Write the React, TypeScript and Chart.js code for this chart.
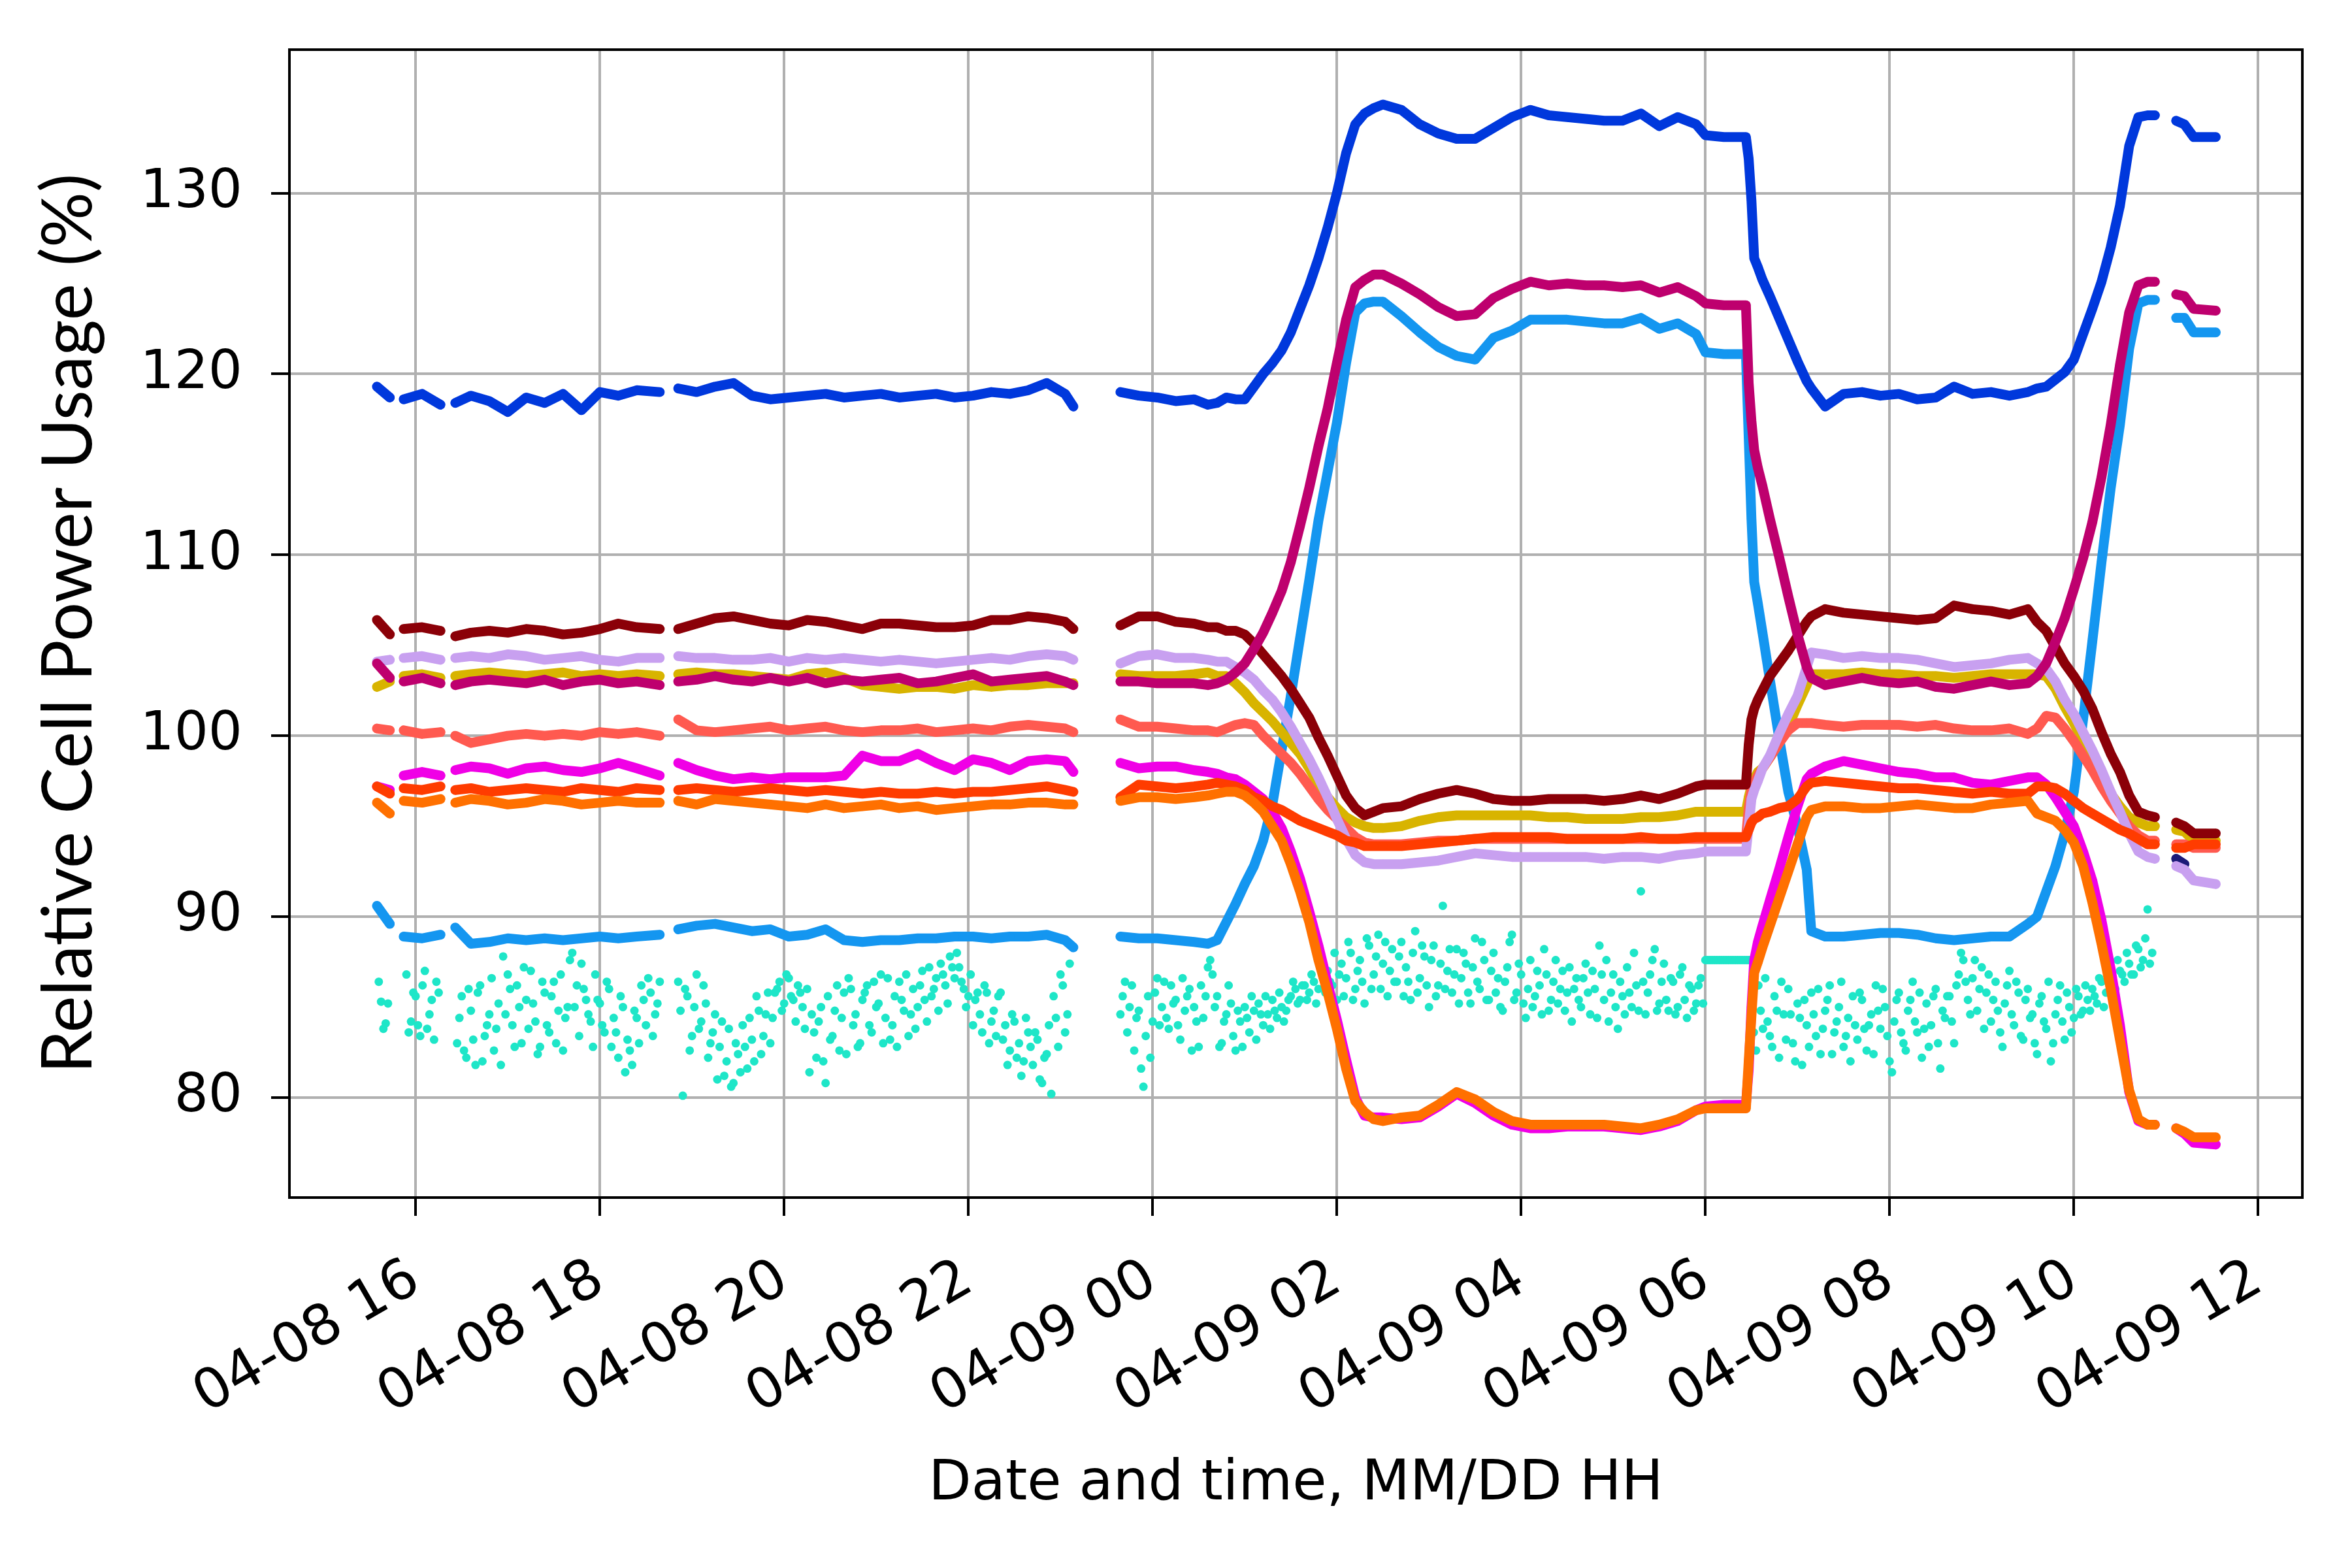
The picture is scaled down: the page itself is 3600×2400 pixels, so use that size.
import React, { useEffect, useRef } from 'react';
import { Chart, registerables } from 'chart.js';

Chart.register(...registerables);

// ---- axis ticks ----
const TICK_HOURS = [16, 18, 20, 22, 24, 26, 28, 30, 32, 34, 36];
const TICK_LABELS = ['04-08 16', '04-08 18', '04-08 20', '04-08 22', '04-09 00', '04-09 02', '04-09 04', '04-09 06', '04-09 08', '04-09 10', '04-09 12'];
const Y_TICKS = [80, 90, 100, 110, 120, 130];

// ---- sample times (hours since 04-08 00:00), one list per recording segment ----
const SEG_T1 = [15.58, 15.72];
const SEG_T2 = [15.87, 16.07, 16.27];
const SEG_T3 = [16.43, 16.6, 16.8, 17.0, 17.2, 17.4, 17.6, 17.8, 18.0, 18.2, 18.4, 18.65];
const SEG_T4 = [18.85, 19.05, 19.25, 19.45, 19.65, 19.85, 20.05, 20.25, 20.45, 20.65, 20.85, 21.05, 21.25, 21.45, 21.65, 21.85, 22.05, 22.25, 22.45, 22.65, 22.85, 23.05, 23.14];
const SEG_T5 = [
  23.65, 23.85, 24.05, 24.25, 24.45, 24.6, 24.7, 24.8, 24.9, 25.0, 25.1, 25.2, 25.3, 25.4, 25.5, 25.6, 25.7, 25.8, 25.9, 26.0, 26.1, 26.2, 26.3, 26.4, 26.5,
  26.7, 26.9, 27.1, 27.3, 27.5, 27.7, 27.9, 28.1, 28.3, 28.5, 28.7, 28.9, 29.1, 29.3, 29.5, 29.7, 29.9, 30.0, 30.2, 30.44,
  30.47, 30.5, 30.53, 30.57, 30.62, 30.7, 30.8, 30.9, 31.0, 31.1, 31.15, 31.3, 31.5, 31.7, 31.9, 32.1, 32.3, 32.5, 32.7, 32.9, 33.1, 33.3, 33.5,
  33.6, 33.7, 33.8, 33.9, 34.0, 34.1, 34.2, 34.3, 34.4, 34.5, 34.6, 34.7, 34.8, 34.88,
];
const SEG_T6 = [35.11, 35.2, 35.3, 35.54];
const SEGMENT_TIMES = [SEG_T1, SEG_T2, SEG_T3, SEG_T4, SEG_T5, SEG_T6];

// ---- series values (%), per segment ----
const BLUE = [
  [119.3, 118.7],
  [118.6, 118.9, 118.3],
  [118.4, 118.8, 118.5, 117.9, 118.7, 118.4, 118.9, 118.0, 119.0, 118.8, 119.1, 119.0],
  [119.2, 119.0, 119.3, 119.5, 118.8, 118.6, 118.7, 118.8, 118.9, 118.7, 118.8, 118.9, 118.7, 118.8, 118.9, 118.7, 118.8, 119.0, 118.9, 119.1, 119.5, 118.9, 118.2],
  [119.0, 118.8, 118.7, 118.5, 118.6, 118.3, 118.4, 118.7, 118.6, 118.6, 119.3, 120.0, 120.6, 121.3, 122.3, 123.6, 124.9, 126.4, 128.1, 130.0, 132.2, 133.8, 134.4, 134.7, 134.9,
   134.6, 133.8, 133.3, 133.0, 133.0, 133.6, 134.2, 134.6, 134.3, 134.2, 134.1, 134.0, 134.0, 134.4, 133.7, 134.2, 133.8, 133.2, 133.1, 133.1,
   131.9, 129.6, 126.4, 125.9, 125.2, 124.3, 123.1, 121.9, 120.7, 119.6, 119.2, 118.2, 118.9, 119.0, 118.8, 118.9, 118.6, 118.7, 119.3, 118.9, 119.0, 118.8, 119.0,
   119.2, 119.3, 119.7, 120.1, 120.8, 122.2, 123.6, 125.1, 127.0, 129.3, 132.6, 134.2, 134.3, 134.3],
  [134.0, 133.8, 133.1, 133.1],
];
const LIGHT_BLUE = [
  [90.6, 89.6],
  [88.9, 88.8, 89.0],
  [89.4, 88.5, 88.6, 88.8, 88.7, 88.8, 88.7, 88.8, 88.9, 88.8, 88.9, 89.0],
  [89.3, 89.5, 89.6, 89.4, 89.2, 89.3, 88.9, 89.0, 89.3, 88.7, 88.6, 88.7, 88.7, 88.8, 88.8, 88.9, 88.9, 88.8, 88.9, 88.9, 89.0, 88.7, 88.3],
  [88.9, 88.8, 88.8, 88.7, 88.6, 88.5, 88.7, 89.7, 90.7, 91.8, 92.8, 94.2, 96.2, 99.2, 102.2, 105.4, 108.6, 111.9, 114.6, 117.3, 120.6, 123.4, 123.9, 124.0, 124.0,
   123.2, 122.3, 121.5, 121.0, 120.8, 122.0, 122.4, 123.0, 123.0, 123.0, 122.9, 122.8, 122.8, 123.1, 122.5, 122.8, 122.2, 121.2, 121.1, 121.1,
   116.5, 112.0, 108.5, 107.3, 105.7, 103.1, 99.9, 96.9, 95.0, 92.6, 89.2, 88.9, 88.9, 89.0, 89.1, 89.1, 89.0, 88.8, 88.7, 88.8, 88.9, 88.9, 89.6,
   90.0, 91.4, 92.8, 94.6, 96.9, 100.9, 105.2, 109.6, 113.7, 117.2, 121.4, 123.9, 124.1, 124.1],
  [123.1, 123.1, 122.3, 122.3],
];
const CRIMSON = [
  [104.0, 103.2],
  [103.0, 103.2, 102.9],
  [102.8, 103.0, 103.1, 103.0, 102.9, 103.1, 102.8, 103.0, 103.1, 102.9, 103.0, 102.8],
  [103.0, 103.1, 103.3, 103.1, 103.0, 103.2, 103.0, 103.2, 102.9, 103.1, 103.0, 103.1, 103.2, 102.9, 103.0, 103.2, 103.4, 103.0, 103.1, 103.2, 103.3, 103.0, 102.8],
  [103.0, 103.0, 102.9, 102.9, 102.9, 102.8, 102.9, 103.1, 103.5, 104.0, 104.8, 105.7, 106.8, 108.0, 109.6, 111.6, 113.7, 116.0, 118.1, 120.6, 123.0, 124.8, 125.2, 125.5, 125.5,
   125.0, 124.4, 123.7, 123.2, 123.3, 124.2, 124.7, 125.1, 124.9, 125.0, 124.9, 124.9, 124.8, 124.9, 124.5, 124.8, 124.3, 123.9, 123.8, 123.8,
   119.5, 117.4, 115.8, 114.8, 113.8, 112.0, 109.9, 107.7, 105.6, 103.8, 103.2, 102.8, 103.0, 103.2, 103.0, 102.9, 103.0, 102.7, 102.6, 102.8, 103.0, 102.8, 102.9,
   103.3, 104.0, 105.2, 106.5, 108.1, 109.8, 111.8, 114.3, 117.2, 120.5, 123.4, 124.9, 125.1, 125.1],
  [124.4, 124.3, 123.6, 123.5],
];
const MAROON = [
  [106.4, 105.6],
  [105.9, 106.0, 105.8],
  [105.5, 105.7, 105.8, 105.7, 105.9, 105.8, 105.6, 105.7, 105.9, 106.2, 106.0, 105.9],
  [105.9, 106.2, 106.5, 106.6, 106.4, 106.2, 106.1, 106.4, 106.3, 106.1, 105.9, 106.2, 106.2, 106.1, 106.0, 106.0, 106.1, 106.4, 106.4, 106.6, 106.5, 106.3, 105.9],
  [106.1, 106.6, 106.6, 106.3, 106.2, 106.0, 106.0, 105.8, 105.8, 105.6, 105.1, 104.5, 103.9, 103.3, 102.6, 101.8, 101.0, 99.9, 98.9, 97.8, 96.7, 96.0, 95.6, 95.8, 96.0,
   96.1, 96.5, 96.8, 97.0, 96.8, 96.5, 96.4, 96.4, 96.5, 96.5, 96.5, 96.4, 96.5, 96.7, 96.5, 96.8, 97.2, 97.3, 97.3, 97.3,
   99.5, 100.9, 101.5, 102.0, 102.5, 103.3, 104.0, 104.7, 105.5, 106.3, 106.6, 107.0, 106.8, 106.7, 106.6, 106.5, 106.4, 106.5, 107.2, 107.0, 106.9, 106.7, 107.0,
   106.3, 105.8, 104.9, 104.0, 103.3, 102.5, 101.5, 100.2, 99.0, 98.0, 96.7, 95.8, 95.6, 95.5],
  [95.2, 95.0, 94.6, 94.6],
];
const LAVENDER = [
  [104.1, 104.2],
  [104.3, 104.4, 104.2],
  [104.3, 104.4, 104.3, 104.5, 104.4, 104.2, 104.3, 104.4, 104.2, 104.1, 104.3, 104.3],
  [104.4, 104.3, 104.3, 104.2, 104.2, 104.3, 104.1, 104.3, 104.2, 104.3, 104.2, 104.1, 104.2, 104.1, 104.0, 104.1, 104.2, 104.3, 104.2, 104.4, 104.5, 104.4, 104.2],
  [104.0, 104.4, 104.5, 104.3, 104.3, 104.2, 104.1, 104.1, 103.8, 103.5, 103.1, 102.5, 102.0, 101.3, 100.5, 99.6, 98.7, 97.7, 96.6, 95.4, 94.3, 93.4, 93.0, 92.9, 92.9,
   92.9, 93.0, 93.1, 93.3, 93.5, 93.4, 93.3, 93.3, 93.3, 93.3, 93.3, 93.2, 93.3, 93.3, 93.2, 93.4, 93.5, 93.6, 93.6, 93.6,
   95.0, 96.5, 97.0, 97.5, 98.2, 98.9, 100.1, 101.2, 102.2, 103.8, 104.6, 104.5, 104.3, 104.4, 104.3, 104.3, 104.2, 104.0, 103.8, 103.9, 104.0, 104.2, 104.3,
   104.0, 103.7, 103.0, 102.0, 101.2, 100.2, 99.2, 98.1, 96.9, 95.8, 94.6, 93.6, 93.3, 93.2],
  [92.8, 92.6, 92.0, 91.8],
];
const NAVY = [[], [], [], [], [], [93.2, 92.9]];
const GOLD = [
  [102.7, 103.0],
  [103.3, 103.4, 103.2],
  [103.3, 103.4, 103.5, 103.4, 103.3, 103.4, 103.5, 103.3, 103.4, 103.3, 103.4, 103.3],
  [103.4, 103.5, 103.4, 103.4, 103.3, 103.2, 103.1, 103.4, 103.5, 103.2, 102.8, 102.7, 102.6, 102.7, 102.7, 102.6, 102.8, 102.7, 102.8, 102.8, 102.9, 102.9, 102.9],
  [103.4, 103.3, 103.3, 103.3, 103.4, 103.5, 103.3, 103.3, 102.9, 102.4, 101.8, 101.3, 100.8, 100.2, 99.6, 99.0, 98.2, 97.3, 96.6, 96.0, 95.5, 95.2, 95.0, 94.9, 94.9,
   95.0, 95.3, 95.5, 95.6, 95.6, 95.6, 95.6, 95.6, 95.5, 95.5, 95.4, 95.4, 95.4, 95.5, 95.5, 95.6, 95.8, 95.8, 95.8, 95.8,
   96.6, 97.2, 97.6, 98.0, 98.2, 98.8, 99.6, 100.5, 101.7, 102.8, 103.4, 103.4, 103.4, 103.5, 103.4, 103.4, 103.3, 103.3, 103.2, 103.3, 103.4, 103.4, 103.4,
   103.4, 103.3, 102.6, 101.6, 100.7, 99.7, 98.7, 97.7, 96.8, 96.1, 95.5, 95.2, 95.0, 95.0],
  [94.8, 94.7, 94.2, 94.2],
];
const SALMON = [
  [100.4, 100.3],
  [100.3, 100.1, 100.2],
  [100.0, 99.6, 99.8, 100.0, 100.1, 100.0, 100.1, 100.0, 100.2, 100.1, 100.2, 100.0],
  [100.9, 100.3, 100.2, 100.3, 100.4, 100.5, 100.3, 100.4, 100.5, 100.3, 100.2, 100.3, 100.3, 100.4, 100.2, 100.3, 100.4, 100.3, 100.5, 100.6, 100.5, 100.4, 100.2],
  [100.9, 100.5, 100.5, 100.4, 100.3, 100.3, 100.2, 100.4, 100.6, 100.7, 100.6, 100.0, 99.5, 99.0, 98.5, 97.9, 97.2, 96.5, 95.9, 95.4, 94.9, 94.4, 94.1, 94.0, 94.0,
   94.0, 94.1, 94.2, 94.2, 94.3, 94.3, 94.3, 94.3, 94.3, 94.3, 94.3, 94.3, 94.3, 94.3, 94.3, 94.3, 94.3, 94.3, 94.3, 94.3,
   96.0, 97.0, 97.4, 97.8, 98.2, 98.8, 99.6, 100.3, 100.7, 100.7, 100.7, 100.6, 100.5, 100.6, 100.6, 100.6, 100.5, 100.6, 100.4, 100.3, 100.3, 100.4, 100.1,
   100.4, 101.1, 101.0, 100.4, 99.7, 98.9, 98.1, 97.2, 96.4, 95.7, 95.0, 94.5, 94.2, 94.2],
  [94.0, 94.0, 93.8, 93.8],
];
const MAGENTA = [
  [97.2, 97.0],
  [97.8, 98.0, 97.8],
  [98.1, 98.3, 98.2, 97.9, 98.2, 98.3, 98.1, 98.0, 98.2, 98.5, 98.2, 97.8],
  [98.5, 98.1, 97.8, 97.6, 97.7, 97.6, 97.7, 97.7, 97.7, 97.8, 98.9, 98.6, 98.6, 99.0, 98.5, 98.1, 98.7, 98.5, 98.1, 98.6, 98.7, 98.6, 98.0],
  [98.5, 98.2, 98.3, 98.3, 98.1, 98.0, 97.9, 97.7, 97.6, 97.3, 96.9, 96.5, 95.8, 94.9, 93.6, 92.1, 90.3, 88.4, 86.3, 84.3, 82.1, 80.0, 79.0, 78.9, 78.9,
   78.8, 78.9, 79.5, 80.2, 79.7, 79.0, 78.5, 78.3, 78.3, 78.4, 78.4, 78.4, 78.3, 78.2, 78.4, 78.7, 79.3, 79.5, 79.6, 79.6,
   81.5, 85.0, 87.6, 88.6, 89.5, 90.9, 92.6, 94.4, 96.1, 97.6, 97.9, 98.3, 98.6, 98.4, 98.2, 98.0, 97.9, 97.7, 97.7, 97.4, 97.3, 97.5, 97.7,
   97.7, 97.3, 96.6, 95.8, 95.0, 93.6, 92.0, 89.8, 87.1, 84.0, 80.3, 78.7, 78.5, 78.5],
  [78.3, 78.0, 77.5, 77.4],
];
const RED_ORANGE = [
  [97.2, 96.8],
  [97.1, 97.0, 97.2],
  [97.0, 97.1, 96.9, 97.0, 97.1, 97.0, 96.9, 97.1, 97.0, 96.9, 97.1, 97.0],
  [97.0, 97.1, 97.0, 96.9, 97.0, 97.1, 97.0, 96.9, 97.0, 96.9, 96.8, 96.9, 96.8, 96.8, 96.9, 96.8, 96.9, 96.9, 97.0, 97.1, 97.2, 97.0, 96.9],
  [96.6, 97.3, 97.2, 97.1, 97.2, 97.3, 97.4, 97.3, 97.2, 97.0, 96.6, 96.4, 96.1, 95.9, 95.6, 95.3, 95.1, 94.9, 94.7, 94.5, 94.2, 94.1, 93.9, 93.9, 93.9,
   93.9, 94.0, 94.1, 94.2, 94.3, 94.4, 94.4, 94.4, 94.4, 94.3, 94.3, 94.3, 94.3, 94.4, 94.3, 94.3, 94.4, 94.4, 94.4, 94.4,
   94.8, 95.2, 95.4, 95.5, 95.7, 95.8, 96.0, 96.1, 96.5, 97.2, 97.4, 97.5, 97.4, 97.3, 97.2, 97.1, 97.1, 97.0, 96.9, 96.8, 96.9, 96.8, 96.8,
   97.2, 97.2, 97.1, 96.8, 96.4, 96.0, 95.7, 95.4, 95.1, 94.8, 94.6, 94.3, 94.0, 94.0],
  [93.8, 93.8, 94.0, 94.0],
];
const ORANGE = [
  [96.3, 95.7],
  [96.4, 96.3, 96.5],
  [96.3, 96.5, 96.4, 96.2, 96.3, 96.5, 96.4, 96.2, 96.3, 96.4, 96.3, 96.3],
  [96.4, 96.2, 96.5, 96.4, 96.3, 96.2, 96.1, 96.0, 96.2, 96.0, 96.1, 96.2, 96.0, 96.1, 95.9, 96.0, 96.1, 96.2, 96.2, 96.3, 96.3, 96.2, 96.2],
  [96.4, 96.6, 96.6, 96.5, 96.6, 96.7, 96.8, 96.9, 96.9, 96.7, 96.3, 95.8, 95.0, 94.2, 92.9, 91.4, 89.7, 87.6, 85.8, 83.8, 81.6, 79.8, 79.2, 78.8, 78.7,
   78.9, 79.0, 79.6, 80.3, 79.9, 79.2, 78.7, 78.5, 78.5, 78.5, 78.5, 78.5, 78.4, 78.3, 78.5, 78.8, 79.3, 79.4, 79.4, 79.4,
   82.0, 84.5, 86.9, 87.5, 88.3, 89.5, 91.0, 92.5, 94.0, 95.5, 95.9, 96.1, 96.1, 96.0, 96.0, 96.1, 96.2, 96.1, 96.0, 96.0, 96.2, 96.3, 96.4,
   95.7, 95.5, 95.3, 94.8, 94.1, 92.8, 90.8, 88.5, 86.0, 83.2, 80.4, 78.8, 78.5, 78.5],
  [78.3, 78.1, 77.8, 77.8],
];

// ---- scattered (noisy) turquoise series: two interleaved reading sets, every 0.05 h from each segment start ----
const TQ_STARTS_A = [15.6, 15.9, 16.45, 18.85, 23.65];
const TQ_STARTS_B = [15.625, 15.925, 16.475, 18.875, 23.675];
const TQ_STEP = 0.05;
const TQ_A1 = [86.4, 83.8, 85.2];
const TQ_A2 = [86.8, 84.2, 85.6, 83.4, 87.0, 84.6, 83.2, 85.8];
const TQ_A3 = [
  83.0, 85.6, 82.2, 84.8, 81.8, 86.2, 83.4, 84.6, 82.6, 85.2, 87.8, 86.8, 84.0, 86.2, 83.0, 85.4, 87.0, 84.2, 82.8, 85.8,
  83.6, 86.4, 84.8, 82.6, 85.0, 88.0, 86.2, 87.4, 85.4, 84.2, 86.8, 85.2, 83.6, 86.0, 84.4, 82.2, 85.0, 83.2, 81.8, 84.4,
  86.2, 84.0, 85.8, 84.6, 86.4,
];
const TQ_A4 = [
  86.4, 80.1, 85.6, 83.4, 86.8, 84.2, 85.2, 83.0, 84.6, 82.8, 81.2, 83.8, 80.8, 82.4, 84.0, 81.6, 83.2, 85.6, 82.4, 84.6,
  83.0, 85.8, 86.4, 85.2, 86.6, 85.4, 86.2, 85.0, 86.0, 84.6, 82.2, 85.0, 80.8, 83.2, 84.8, 82.6, 85.8, 86.6, 84.0, 82.8,
  85.4, 86.2, 83.6, 85.0, 86.8, 84.4, 83.2, 85.6, 86.4, 84.8, 83.4, 86.0, 85.0, 87.0, 84.2, 85.6, 86.6, 87.4, 86.2, 87.8,
  86.6, 87.2, 86.0, 85.6, 84.0, 85.8, 83.6, 85.8, 84.2, 83.4, 85.8, 84.0, 82.6, 84.2, 83.0, 82.0, 83.6, 81.8, 83.2, 80.8,
  82.4, 80.2, 84.4, 86.8, 83.6, 87.4,
];
const TQ_A5 = [
  84.6, 86.4, 85.0, 82.6, 84.8, 80.6, 85.6, 84.2, 86.6, 85.0, 84.4, 86.2, 85.4, 83.2, 84.8, 86.0, 85.0, 82.8, 84.4, 87.2,
  86.8, 85.6, 83.0, 84.6, 85.2, 82.6, 84.2, 85.0, 83.6, 84.8, 85.2, 84.0, 84.6, 85.4, 84.4, 85.0, 84.8, 85.6, 86.0, 85.4,
  86.2, 85.8, 86.4, 86.0, 86.6, 87.0, 86.2, 85.4, 87.4, 86.6, 88.0, 86.0, 87.6, 85.2, 88.4, 86.8, 89.0, 87.4, 85.6, 88.2,
  86.4, 88.6, 87.2, 85.4, 89.2, 86.6, 87.8, 85.0, 88.4, 86.2, 90.6, 87.0, 85.8, 88.2, 86.6, 87.4, 85.2, 88.8, 86.0, 87.6,
  85.4, 88.0, 86.6, 84.8, 87.2, 89.0, 85.8, 86.8, 84.4, 87.6, 85.6, 86.2, 88.2, 84.8, 86.4, 85.2, 87.0, 85.8, 84.2, 86.6,
  85.0, 87.4, 84.6, 86.0, 88.4, 85.4, 84.2, 86.8, 83.8, 85.6, 87.2, 85.0, 86.2, 91.4, 84.6, 86.8, 88.2, 85.2, 87.4, 84.8,
  86.4, 85.0, 87.2, 84.4, 86.0, 85.2, 86.6, 87.6, 87.6, 87.6, 87.6, 87.6, 87.6, 87.6, 87.6, 87.6, 87.6, 85.0, 82.6, 84.8,
  86.6, 83.4, 85.6, 82.2, 84.6, 86.0, 83.0, 85.2, 81.8, 84.0, 85.8, 83.4, 82.4, 84.8, 86.2, 83.6, 85.0, 82.8, 84.4, 85.6,
  83.2, 85.4, 82.6, 84.6, 86.2, 83.8, 85.0, 82.0, 84.2, 85.8, 83.0, 84.8, 86.4, 83.6, 82.2, 85.2, 84.0, 86.0, 81.6, 84.4,
  85.6, 83.0, 86.8, 87.6, 85.4, 86.6, 84.8, 87.2, 85.8, 84.2, 86.4, 83.6, 85.2, 87.0, 84.0, 85.8, 83.2, 86.0, 84.6, 82.4,
  85.6, 83.8, 82.0, 84.6, 86.2, 83.2, 85.0, 84.4, 85.6, 84.8, 85.4, 86.0, 85.2, 86.4, 85.8, 86.6, 86.0, 87.0, 86.4, 87.4,
  86.8, 88.2, 87.6, 90.4, 88.0,
];
const TQ_B1 = [85.3, 84.1];
const TQ_B2 = [83.6, 85.8, 84.0, 86.2, 83.8, 85.4, 86.4];
const TQ_B3 = [
  84.4, 82.6, 86.0, 83.2, 85.8, 82.0, 84.0, 86.6, 83.8, 81.8, 84.6, 86.0, 82.8, 85.0, 87.2, 83.8, 85.2, 82.4, 86.4, 84.0,
  85.6, 83.0, 86.8, 84.4, 87.6, 85.0, 83.4, 86.0, 84.6, 82.8, 85.4, 84.0, 86.4, 82.8, 83.6, 85.6, 81.4, 82.6, 84.8, 83.0,
  85.4, 86.6, 83.4, 85.2,
];
const TQ_B4 = [
  84.8, 86.0, 82.6, 85.0, 83.8, 86.2, 82.2, 83.6, 81.0, 84.2, 82.0, 80.6, 83.0, 81.4, 82.8, 84.4, 82.0, 84.8, 83.4, 85.8,
  84.4, 86.0, 84.8, 86.8, 85.6, 84.2, 85.8, 83.8, 81.4, 83.6, 84.2, 82.0, 85.6, 83.4, 86.2, 84.4, 82.4, 86.0, 84.6, 83.0,
  85.8, 84.0, 86.4, 85.2, 83.0, 86.6, 84.0, 82.8, 85.4, 86.8, 84.6, 83.8, 86.2, 85.4, 87.2, 86.0, 84.8, 86.8, 85.2, 87.2,
  88.0, 86.4, 85.0, 86.8, 85.4, 84.6, 86.2, 83.0, 84.8, 85.6, 83.2, 81.8, 84.6, 82.2, 81.2, 84.4, 82.8, 83.6, 81.0, 82.2,
  84.0, 85.6, 82.8, 86.2, 84.6,
];
const TQ_B5 = [
  85.6, 83.6, 86.2, 84.4, 81.6, 83.4, 82.2, 85.8, 84.0, 86.4, 83.8, 85.2, 84.0, 86.6, 85.6, 82.6, 84.2, 86.2, 85.6, 87.6,
  85.0, 82.8, 84.2, 86.2, 83.4, 84.8, 82.8, 84.4, 85.6, 83.2, 84.6, 85.6, 83.8, 84.8, 85.8, 84.2, 85.4, 86.4, 85.2, 86.2,
  85.4, 86.8, 85.2, 87.2, 85.8, 86.4, 88.0, 86.8, 85.6, 88.6, 85.4, 87.0, 86.4, 88.8, 86.0, 87.8, 86.0, 88.6, 87.0, 86.4,
  87.8, 85.6, 86.4, 88.0, 85.8, 88.4, 86.2, 87.6, 85.6, 87.4, 86.0, 88.2, 86.8, 85.2, 88.0, 85.8, 87.2, 86.4, 88.6, 85.4,
  87.0, 85.8, 85.0, 86.4, 88.6, 85.4, 87.4, 85.2, 86.0, 85.0, 87.0, 84.6, 86.8, 85.4, 87.6, 86.0, 84.8, 87.2, 86.0, 85.4,
  86.6, 85.8, 87.0, 84.4, 86.8, 87.6, 85.8, 85.0, 86.4, 84.6, 85.8, 88.0, 84.8, 86.4, 85.8, 87.6, 84.8, 86.4, 85.4, 86.6,
  84.6, 86.8, 85.4, 86.2, 84.8, 86.2, 85.2, 87.6, 87.6, 87.6, 87.6, 87.6, 87.6, 87.6, 87.6, 87.6, 87.6, 83.6, 86.2, 83.8,
  84.2, 82.8, 84.8, 86.4, 83.2, 84.6, 82.0, 84.4, 85.4, 82.8, 84.6, 86.0, 83.8, 85.4, 82.4, 84.2, 86.4, 83.4, 82.0, 84.0,
  85.8, 83.8, 84.0, 82.4, 84.8, 86.0, 83.4, 81.4, 85.4, 83.6, 82.6, 85.4, 84.2, 85.8, 83.8, 82.8, 85.6, 83.0, 84.8, 85.6,
  84.2, 86.2, 88.0, 86.4, 84.6, 87.6, 86.0, 83.8, 86.8, 85.4, 84.8, 82.8, 86.2, 84.6, 86.4, 83.4, 85.4, 84.4, 83.0, 85.2,
  84.2, 86.4, 83.0, 85.4, 84.2, 85.8, 83.6, 86.0, 84.6, 86.2, 84.8, 85.6, 86.6, 85.0, 87.0, 85.6, 87.6, 86.8, 88.0, 86.8,
  88.4, 87.2, 88.8, 87.4,
];
const TQ_A = [TQ_A1, TQ_A2, TQ_A3, TQ_A4, TQ_A5];
const TQ_B = [TQ_B1, TQ_B2, TQ_B3, TQ_B4, TQ_B5];

// ---- styling ----
const LINE_SERIES = [
  // bottom -> top
  { data: LIGHT_BLUE, color: '#1496f0' },
  { data: BLUE, color: '#0038dc' },
  { data: NAVY, color: '#1c1a78' },
  { data: GOLD, color: '#d8b400' },
  { data: SALMON, color: '#ff5a50' },
  { data: MAGENTA, color: '#f000e6' },
  { data: LAVENDER, color: '#c8a0f0' },
  { data: MAROON, color: '#8b0008' },
  { data: CRIMSON, color: '#be006e' },
  { data: RED_ORANGE, color: '#ff3c00' },
  { data: ORANGE, color: '#ff7000' },
];
const TURQUOISE = '#1ee6c8';

function toPoints(segs: number[][]) {
  const pts: { x: number; y: number | null }[] = [];
  segs.forEach((vals, si) => {
    const ts = SEGMENT_TIMES[si];
    if (!vals.length) return;
    vals.forEach((v, i) => {
      if (i < ts.length) pts.push({ x: ts[i], y: v });
    });
    pts.push({ x: ts[Math.min(vals.length, ts.length) - 1] + 0.02, y: null });
  });
  return pts;
}

function turquoisePoints() {
  const pts: { x: number; y: number }[] = [];
  TQ_A.forEach((vals, si) => vals.forEach((v, i) => pts.push({ x: TQ_STARTS_A[si] + i * TQ_STEP, y: v })));
  TQ_B.forEach((vals, si) => vals.forEach((v, i) => pts.push({ x: TQ_STARTS_B[si] + i * TQ_STEP, y: v })));
  return pts;
}

const framePlugin = {
  id: 'frame',
  afterDatasetsDraw(chart: any) {
    const { ctx, chartArea: a } = chart;
    ctx.save();
    ctx.strokeStyle = '#000';
    ctx.lineWidth = 4;
    ctx.strokeRect(a.left, a.top, a.right - a.left, a.bottom - a.top);
    ctx.restore();
  },
};

export default function App() {
  const ref = useRef<HTMLCanvasElement>(null);

  useEffect(() => {
    if (!ref.current) return;
    const lineSets = LINE_SERIES.map((s) => ({
      data: toPoints(s.data),
      showLine: true,
      borderColor: s.color,
      backgroundColor: s.color,
      borderWidth: 15,
      borderJoinStyle: 'round',
      borderCapStyle: 'round',
      pointRadius: 7,
      pointBorderWidth: 0,
      pointBackgroundColor: s.color,
      spanGaps: false,
      tension: 0,
    }));
    const tq = {
      data: turquoisePoints(),
      showLine: false,
      backgroundColor: TURQUOISE,
      borderColor: TURQUOISE,
      pointRadius: 6.5,
      pointBorderWidth: 0,
    };
    // Chart.js draws index 0 on top, so reverse the bottom->top list
    const datasets = [...lineSets].reverse().concat([tq as any]);

    const gridOpts = { color: '#b0b0b0', lineWidth: 4, tickLength: 28, tickColor: '#000', tickWidth: 4 };

    const chart = new Chart(ref.current, {
      type: 'scatter',
      data: { datasets: datasets as any },
      options: {
        animation: false,
        responsive: false,
        devicePixelRatio: 1,
        layout: { padding: { left: 0, right: 76, top: 76, bottom: 0 } },
        plugins: { legend: { display: false }, tooltip: { enabled: false } },
        scales: {
          x: {
            type: 'linear',
            min: 14.63,
            max: 36.48,
            afterBuildTicks: (s: any) => {
              s.ticks = TICK_HOURS.map((v) => ({ value: v }));
            },
            afterFit: (s: any) => {
              s.height = 567;
              s.paddingLeft = 0;
              s.paddingRight = 0;
            },
            grid: gridOpts,
            border: { display: false },
            ticks: {
              autoSkip: false,
              minRotation: 30,
              maxRotation: 30,
              padding: 48,
              color: '#000',
              font: { family: "'DejaVu Sans', sans-serif", size: 85 },
              callback: (_v: any, i: number) => TICK_LABELS[i],
            },
            title: {
              display: true,
              text: 'Date and time, MM/DD HH',
              color: '#000',
              font: { family: "'DejaVu Sans', sans-serif", size: 85 },
              padding: { top: 0, bottom: 76 },
            },
          },
          y: {
            type: 'linear',
            min: 74.47,
            max: 137.93,
            afterBuildTicks: (s: any) => {
              s.ticks = Y_TICKS.map((v) => ({ value: v }));
            },
            afterFit: (s: any) => {
              s.width = 443;
              s.paddingTop = 0;
              s.paddingBottom = 0;
            },
            grid: gridOpts,
            border: { display: false },
            ticks: {
              padding: 44,
              color: '#000',
              font: { family: "'DejaVu Sans', sans-serif", size: 82 },
              callback: (v: any) => String(v),
            },
            title: {
              display: true,
              text: 'Relative Cell Power Usage (%)',
              color: '#000',
              font: { family: 'Lato, sans-serif', size: 106 },
              padding: { top: 42, bottom: 0 },
            },
          },
        },
      },
      plugins: [framePlugin],
    });
    return () => chart.destroy();
  }, []);

  return (
    <div style={{ position: 'absolute', left: 0, top: 0, width: 3600, height: 2400, background: '#fff' }}>
      <canvas ref={ref} width={3600} height={2400} style={{ display: 'block', width: 3600, height: 2400 }} />
    </div>
  );
}
